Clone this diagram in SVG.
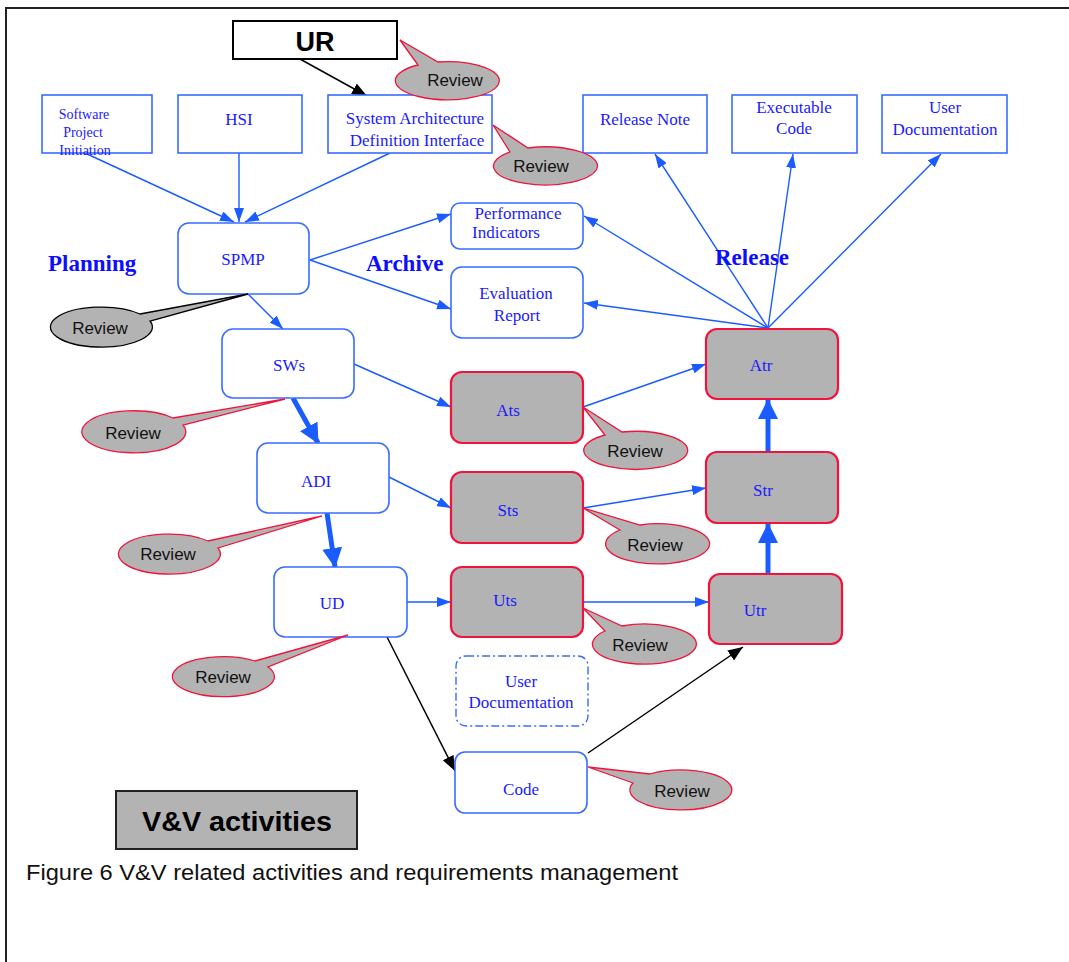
<svg xmlns="http://www.w3.org/2000/svg" width="1069" height="962" viewBox="0 0 1069 962">
  <style>
    .box { fill: #ffffff; stroke: #3a6cff; stroke-width: 1.6; }
    .res { fill: #b3b3b3; stroke: #f0143c; stroke-width: 2.2; }
    .doc { fill: #ffffff; stroke: #3a6cff; stroke-width: 1.4; stroke-dasharray: 8 3 2 3; }
    .nt { font-family: "Liberation Serif", "Times New Roman", serif; font-size: 17px; fill: #1a1aff; text-anchor: middle; }
    .sm { font-size: 14px; }
    .rv { font-family: "Liberation Sans", Arial, sans-serif; font-size: 17px; fill: #111111; text-anchor: middle; }
    .call { fill: #b3b3b3; stroke: #f0143c; stroke-width: 1.3; }
    .callk { fill: #b3b3b3; stroke: #000000; stroke-width: 1.3; }
    .phase { font-family: "Liberation Serif", "Times New Roman", serif; font-weight: bold; font-size: 23px; fill: #0d0dff; }
    .ln { fill: none; stroke: #1a5cff; stroke-width: 1.4; marker-end: url(#ab); }
    .thick { fill: none; stroke: #1a5cff; stroke-width: 5; marker-end: url(#abt); }
    .blk { fill: none; stroke: #000000; stroke-width: 1.5; marker-end: url(#ak); }
  </style>
  <defs>
    <marker id="ab" markerUnits="userSpaceOnUse" markerWidth="14" markerHeight="10" refX="14" refY="5" orient="auto">
      <path d="M0,0 L14,5 L0,10 z" fill="#1a5cff"/>
    </marker>
    <marker id="abt" markerUnits="userSpaceOnUse" markerWidth="20" markerHeight="20" refX="19" refY="10" orient="auto">
      <path d="M0,0 L20,10 L0,20 z" fill="#1a5cff"/>
    </marker>
    <marker id="ak" markerUnits="userSpaceOnUse" markerWidth="15" markerHeight="12" refX="15" refY="6" orient="auto">
      <path d="M0,0 L15,6 L0,12 z" fill="#000000"/>
    </marker>
  </defs>

  <!-- page frame -->
  <rect x="6" y="8" width="1100" height="1000" fill="#ffffff" stroke="#222222" stroke-width="2"/>

  <!-- connectors -->
  <g id="connectors">
    <line class="blk" x1="300" y1="59" x2="367" y2="96"/>
    <line class="ln" x1="85" y1="153" x2="234" y2="222"/>
    <line class="ln" x1="239" y1="153" x2="239" y2="222"/>
    <line class="ln" x1="390" y1="153" x2="245" y2="222"/>
    <line class="ln" x1="310" y1="260" x2="451" y2="214"/>
    <line class="ln" x1="310" y1="260" x2="451" y2="309"/>
    <line class="ln" x1="248" y1="294" x2="283" y2="329"/>
    <line class="thick" x1="293" y1="398" x2="318" y2="443"/>
    <line class="thick" x1="327" y1="513" x2="335" y2="567"/>
    <line class="ln" x1="354" y1="364" x2="451" y2="407"/>
    <line class="ln" x1="389" y1="477" x2="451" y2="508"/>
    <line class="ln" x1="407" y1="602" x2="451" y2="602"/>
    <line class="blk" x1="387" y1="637" x2="455" y2="771"/>
    <line class="ln" x1="583" y1="407" x2="706" y2="364"/>
    <line class="ln" x1="583" y1="508" x2="706" y2="488"/>
    <line class="ln" x1="583" y1="602" x2="709" y2="602"/>
    <line class="blk" x1="588" y1="753" x2="743" y2="647"/>
    <line class="thick" x1="768" y1="574" x2="768" y2="524"/>
    <line class="thick" x1="768" y1="452" x2="768" y2="400"/>
    <line class="ln" x1="768" y1="328" x2="584" y2="216"/>
    <line class="ln" x1="768" y1="328" x2="584" y2="303"/>
    <line class="ln" x1="768" y1="328" x2="655" y2="154"/>
    <line class="ln" x1="768" y1="328" x2="793" y2="154"/>
    <line class="ln" x1="768" y1="328" x2="941" y2="154"/>
  </g>

  <!-- phase labels -->
  <text class="phase" x="48" y="271">Planning</text>
  <text class="phase" x="366" y="271">Archive</text>
  <text class="phase" x="715" y="265">Release</text>

  <!-- nodes -->
  <g id="ur">
    <rect x="233" y="21" width="164" height="38" fill="#ffffff" stroke="#000000" stroke-width="2"/>
    <text x="315" y="51" font-family="Liberation Sans, Arial, sans-serif" font-weight="bold" font-size="27" fill="#000000" text-anchor="middle">UR</text>
  </g>
  <g id="spi">
    <rect class="box" x="42" y="95" width="110" height="58"/>
    <text class="nt sm" x="84" y="119">Software</text>
    <text class="nt sm" x="83" y="137">Project</text>
    <text class="nt sm" x="85" y="155">Initiation</text>
  </g>
  <g id="hsi">
    <rect class="box" x="178" y="95" width="124" height="58"/>
    <text class="nt" x="239" y="125">HSI</text>
  </g>
  <g id="sadi">
    <rect class="box" x="328" y="95" width="164" height="58"/>
    <text class="nt" x="415" y="124">System Architecture</text>
    <text class="nt" x="417" y="146">Definition Interface</text>
  </g>
  <g id="release-note">
    <rect class="box" x="583" y="95" width="124" height="58"/>
    <text class="nt" x="645" y="125">Release Note</text>
  </g>
  <g id="exe-code">
    <rect class="box" x="732" y="95" width="125" height="58"/>
    <text class="nt" x="794" y="113">Executable</text>
    <text class="nt" x="794" y="134">Code</text>
  </g>
  <g id="user-doc-top">
    <rect class="box" x="882" y="95" width="125" height="58"/>
    <text class="nt" x="945" y="113">User</text>
    <text class="nt" x="945" y="135">Documentation</text>
  </g>
  <g id="spmp">
    <rect class="box" x="178" y="223" width="131" height="71" rx="11"/>
    <text class="nt" x="243" y="265">SPMP</text>
  </g>
  <g id="perf">
    <rect class="box" x="451" y="203" width="132" height="46" rx="9"/>
    <text class="nt" x="518" y="219">Performance</text>
    <text class="nt" x="506" y="238">Indicators</text>
  </g>
  <g id="eval">
    <rect class="box" x="451" y="267" width="132" height="71" rx="11"/>
    <text class="nt" x="516" y="299">Evaluation</text>
    <text class="nt" x="517" y="321">Report</text>
  </g>
  <g id="sws">
    <rect class="box" x="222" y="329" width="132" height="69" rx="11"/>
    <text class="nt" x="289" y="371">SWs</text>
  </g>
  <g id="adi">
    <rect class="box" x="257" y="443" width="132" height="70" rx="11"/>
    <text class="nt" x="316" y="487">ADI</text>
  </g>
  <g id="ud">
    <rect class="box" x="274" y="567" width="133" height="70" rx="11"/>
    <text class="nt" x="332" y="609">UD</text>
  </g>
  <g id="ats">
    <rect class="res" x="451" y="372" width="132" height="71" rx="11"/>
    <text class="nt" x="508" y="416">Ats</text>
  </g>
  <g id="sts">
    <rect class="res" x="451" y="472" width="132" height="71" rx="11"/>
    <text class="nt" x="508" y="516">Sts</text>
  </g>
  <g id="uts">
    <rect class="res" x="451" y="567" width="132" height="70" rx="11"/>
    <text class="nt" x="505" y="606">Uts</text>
  </g>
  <g id="atr">
    <rect class="res" x="706" y="329" width="132" height="70" rx="11"/>
    <text class="nt" x="761" y="371">Atr</text>
  </g>
  <g id="str">
    <rect class="res" x="706" y="452" width="132" height="71" rx="11"/>
    <text class="nt" x="763" y="496">Str</text>
  </g>
  <g id="utr">
    <rect class="res" x="709" y="574" width="133" height="70" rx="11"/>
    <text class="nt" x="755" y="616">Utr</text>
  </g>
  <g id="user-doc">
    <rect class="doc" x="456" y="656" width="132" height="70" rx="10"/>
    <text class="nt" x="521" y="687">User</text>
    <text class="nt" x="521" y="708">Documentation</text>
  </g>
  <g id="code">
    <rect class="box" x="455" y="752" width="132" height="61" rx="10"/>
    <text class="nt" x="521" y="795">Code</text>
  </g>

  <!-- review callouts -->
  <g id="review-ur">
    <path class="call" d="M418,65 L400,40 L438,62 A52,19 0 1 1 418,65 Z"/>
    <text class="rv" x="455" y="86">Review</text>
  </g>
  <g id="review-sadi">
    <path class="call" d="M510,152 L493,125 L528,148 A52,19 0 1 1 510,152 Z"/>
    <text class="rv" x="541" y="172">Review</text>
  </g>
  <g id="review-spmp">
    <path class="callk" d="M140,314 L248,294 L150,321 A51,20 0 1 1 140,314 Z"/>
    <text class="rv" x="100" y="334">Review</text>
  </g>
  <g id="review-sws">
    <path class="call" d="M173,418 L285,399 L183,425 A52,21 0 1 1 173,418 Z"/>
    <text class="rv" x="133" y="439">Review</text>
  </g>
  <g id="review-adi">
    <path class="call" d="M208,541 L322,516 L218,548 A51,20 0 1 1 208,541 Z"/>
    <text class="rv" x="168" y="560">Review</text>
  </g>
  <g id="review-ud">
    <path class="call" d="M255,661 L348,635 L268,667 A51,20 0 1 1 255,661 Z"/>
    <text class="rv" x="223" y="683">Review</text>
  </g>
  <g id="review-ats">
    <path class="call" d="M605,435 L583,407 L622,432 A52,19 0 1 1 605,435 Z"/>
    <text class="rv" x="635" y="457">Review</text>
  </g>
  <g id="review-sts">
    <path class="call" d="M620,530 L583,508 L640,525 A52,20 0 1 1 620,530 Z"/>
    <text class="rv" x="655" y="551">Review</text>
  </g>
  <g id="review-uts">
    <path class="call" d="M605,631 L583,608 L622,626 A52,20 0 1 1 605,631 Z"/>
    <text class="rv" x="640" y="651">Review</text>
  </g>
  <g id="review-code">
    <path class="call" d="M633,783 L588,767 L650,774 A51,20 0 1 1 633,783 Z"/>
    <text class="rv" x="682" y="797">Review</text>
  </g>

  <!-- legend and caption -->
  <g id="vv-activities">
    <rect x="116" y="791" width="241" height="58" fill="#b3b3b3" stroke="#222222" stroke-width="2"/>
    <text x="237" y="831" font-family="Liberation Sans, Arial, sans-serif" font-weight="bold" font-size="27" fill="#000000" text-anchor="middle" textLength="190" lengthAdjust="spacingAndGlyphs">V&amp;V activities</text>
  </g>
  <text x="26" y="880" font-family="Liberation Sans, Arial, sans-serif" font-size="22" fill="#111111" textLength="652" lengthAdjust="spacingAndGlyphs">Figure 6 V&amp;V related activities and requirements management</text>
</svg>
